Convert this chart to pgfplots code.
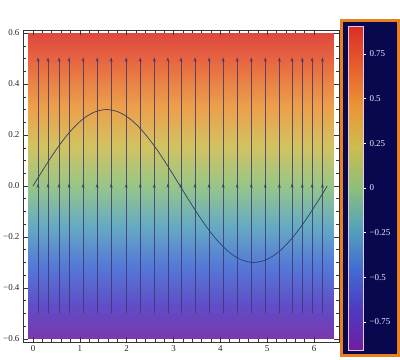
\documentclass[border=0pt]{standalone}
\usepackage{pgfplots}
\pgfplotsset{compat=1.18}
\usepackage{fontspec}
\setmainfont{Liberation Serif}
\usetikzlibrary{arrows.meta}
\definecolor{navybg}{RGB}{8,8,78}
\definecolor{frameorange}{RGB}{232,128,32}
\definecolor{arrowcol}{RGB}{60,50,110}
\definecolor{curvecol}{RGB}{50,60,105}
\definecolor{barframe}{RGB}{235,200,220}
\pgfplotsset{colormap={mmrainbow}{rgb255=(112,30,160) rgb255=(78,58,195) rgb255=(66,108,210) rgb255=(84,162,188) rgb255=(140,192,122) rgb255=(205,188,80) rgb255=(234,150,55) rgb255=(230,95,45) rgb255=(218,45,40)}}
\begin{document}
\begin{tikzpicture}
\useasboundingbox (0bp,0bp) rectangle (400bp,360bp);
\fill[navybg, draw=frameorange, line width=3bp] (341.5bp,4.5bp) rectangle (398.5bp,339.5bp);
\begin{axis}[
  at={(23bp,18bp)}, anchor=south west, scale only axis,
  width=316bp, height=312bp,
  xmin=-0.2135, xmax=6.534, ymin=-0.612, ymax=0.612,
  colormap name=mmrainbow, point meta min=-0.907, point meta max=0.907,
  xtick={0,1,2,3,4,5,6}, xticklabels={0,1,2,3,4,5,6},
  ytick={-0.6,-0.4,-0.2,0,0.2,0.4,0.6},
  yticklabels={−0.6,−0.4,−0.2,0.0,0.2,0.4,0.6},
  minor x tick num=4, minor y tick num=3,
  tick align=inside, xtick pos=both, ytick pos=both,
  xticklabel pos=left, yticklabel pos=left,
  major tick length=5bp, minor tick length=3bp,
  tick style={black!80, line width=0.5bp},
  axis line style={black!80, line width=0.6bp},
  ticklabel style={font=\fontsize{9}{10}\selectfont, black!85},
  axis on top,
]
\addplot[surf, shader=interp, opacity=0.9, mesh/rows=13, mesh/cols=2, point meta=\thisrow{c}] table {
x y c
-0.107 -0.6 -0.88
6.406 -0.6 -0.88
-0.107 -0.5 -0.73
6.406 -0.5 -0.73
-0.107 -0.4 -0.58
6.406 -0.4 -0.58
-0.107 -0.3 -0.44
6.406 -0.3 -0.44
-0.107 -0.2 -0.29
6.406 -0.2 -0.29
-0.107 -0.1 -0.145
6.406 -0.1 -0.145
-0.107 0.0 0.0
6.406 0.0 0.0
-0.107 0.1 0.145
6.406 0.1 0.145
-0.107 0.2 0.29
6.406 0.2 0.29
-0.107 0.3 0.44
6.406 0.3 0.44
-0.107 0.4 0.58
6.406 0.4 0.58
-0.107 0.5 0.73
6.406 0.5 0.73
-0.107 0.6 0.88
6.406 0.6 0.88
};
\addplot[quiver={u=0, v=\thisrow{v}}, arrowcol, opacity=0.8, line width=0.7bp,
  -{Stealth[length=4.5bp, width=3bp]}] table {
x y v
0.107 0 0.505
0.32 0 0.505
0.556 0 0.505
0.77 0 0.505
1.07 0 0.505
1.37 0 0.505
1.67 0 0.505
1.99 0 0.505
2.29 0 0.505
2.59 0 0.505
2.88 0 0.505
3.16 0 0.505
3.46 0 0.505
3.76 0 0.505
4.06 0 0.505
4.36 0 0.505
4.66 0 0.505
4.96 0 0.505
5.26 0 0.505
5.53 0 0.505
5.75 0 0.505
5.96 0 0.505
6.18 0 0.505
0.107 -0.5 0.51
0.32 -0.5 0.51
0.556 -0.5 0.51
0.77 -0.5 0.51
1.07 -0.5 0.51
1.37 -0.5 0.51
1.67 -0.5 0.51
1.99 -0.5 0.51
2.29 -0.5 0.51
2.59 -0.5 0.51
2.88 -0.5 0.51
3.16 -0.5 0.51
3.46 -0.5 0.51
3.76 -0.5 0.51
4.06 -0.5 0.51
4.36 -0.5 0.51
4.66 -0.5 0.51
4.96 -0.5 0.51
5.26 -0.5 0.51
5.53 -0.5 0.51
5.75 -0.5 0.51
5.96 -0.5 0.51
6.18 -0.5 0.51
};
\addplot[curvecol, line width=0.7bp, smooth] coordinates {
(0,0) (0.2618,0.0776) (0.5236,0.15) (0.7854,0.2121) (1.0472,0.2598)
(1.3090,0.2898) (1.5708,0.3) (1.8326,0.2898) (2.0944,0.2598) (2.3562,0.2121)
(2.6180,0.15) (2.8798,0.0776) (3.1416,0) (3.4034,-0.0776) (3.6652,-0.15)
(3.9270,-0.2121) (4.1888,-0.2598) (4.4506,-0.2898) (4.7124,-0.3) (4.9742,-0.2898)
(5.2360,-0.2598) (5.4978,-0.2121) (5.7596,-0.15) (6.0214,-0.0776) (6.2832,0)
};
\end{axis}
\begin{axis}[
  at={(348bp,10bp)}, anchor=south west, scale only axis,
  width=15bp, height=324bp,
  xmin=0, xmax=1, ymin=-0.907, ymax=0.907,
  colormap name=mmrainbow, point meta min=-0.907, point meta max=0.907,
  xtick=\empty,
  ytick={-0.75,-0.5,-0.25,0,0.25,0.5,0.75},
  yticklabels={−0.75,−0.5,−0.25,0,0.25,0.5,0.75},
  ytick pos=right, yticklabel pos=right,
  tick align=outside, major tick length=3bp,
  tick style={white, line width=0.6bp},
  axis line style={barframe, line width=0.8bp},
  ticklabel style={font=\fontsize{9}{10}\selectfont, white!92!blue},
  axis on top,
]
\addplot[surf, shader=interp, mesh/rows=2, mesh/cols=2, point meta=\thisrow{c}] table {
x y c
0 -0.907 -0.907
1 -0.907 -0.907
0 0.907 0.907
1 0.907 0.907
};
\end{axis}
\end{tikzpicture}
\end{document}
